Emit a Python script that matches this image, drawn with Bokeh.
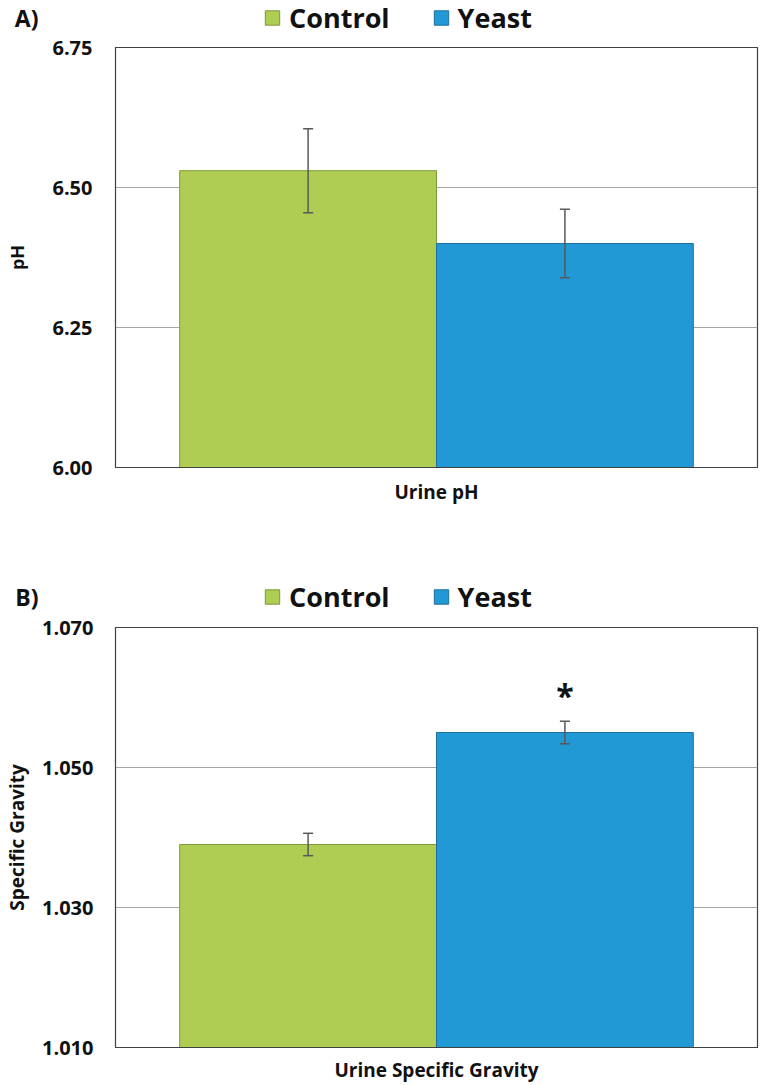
from bokeh.plotting import figure
from bokeh.models import (ColumnDataSource, FactorRange, Range1d, FixedTicker,
                          NumeralTickFormatter, Legend, LegendItem)
from bokeh.transform import dodge
from bokeh.layouts import column
from bokeh.embed import file_html
from bokeh.resources import INLINE
from bokeh.core.properties import value

# ---------------- data ----------------
groups = ["Control", "Yeast"]
colors = ["#AFCD53", "#2199D5"]
edge_colors = ["#7E983A", "#1E6F9F"]

ph_category = "Urine pH"
ph_values = [6.53, 6.40]
ph_errors = [0.075, 0.061]
ph_ticks = [6.00, 6.25, 6.50, 6.75]

sg_category = "Urine Specific Gravity"
sg_values = [1.039, 1.055]
sg_errors = [0.0016, 0.0016]
sg_ticks = [1.010, 1.030, 1.050, 1.070]
sg_significant = [False, True]

FONT = "Open Sans"
INK = "#111111"
offsets = [-0.2, 0.2]
W = 768


def make_header(tag, height, border_top):
    """Strip above a panel: panel tag (as axis label) + legend."""
    h = figure(width=W, height=height, output_backend="svg",
               toolbar_location=None, x_axis_location=None,
               y_axis_location="left", min_border_left=115,
               min_border_right=11, min_border_top=border_top,
               min_border_bottom=0,
               x_range=Range1d(0, 1), y_range=FactorRange(factors=[tag]))
    h.outline_line_color = None
    h.grid.grid_line_color = None
    ax = h.yaxis[0]
    ax.axis_line_color = None
    ax.major_tick_line_color = None
    ax.minor_tick_line_color = None
    ax.major_tick_out = 0
    ax.major_label_standoff = 77
    ax.major_label_text_font = FONT
    ax.major_label_text_font_style = "bold"
    ax.major_label_text_font_size = "23px"
    ax.major_label_text_color = INK
    items = []
    for i, g in enumerate(groups):
        # legend swatch source: placed outside the visible x range
        src = ColumnDataSource(dict(x=[-1.0], y=[tag]))
        r = h.rect(x="x", y="y", width=0.01, height=0.5, source=src,
                   fill_color=colors[i], line_color=edge_colors[i])
        items.append(LegendItem(label=g, renderers=[r]))
    leg = Legend(items=items, orientation="horizontal", location="left",
                 padding=0, margin=148, spacing=42, label_standoff=8,
                 glyph_width=18, glyph_height=18, label_text_font=FONT,
                 label_text_font_style="bold", label_text_font_size="27px",
                 label_text_color=INK, border_line_color=None,
                 background_fill_alpha=0)
    h.add_layout(leg, "center")
    return h


def make_panel(category, vals, errs, ticks, fmt, ylabel, signif,
               height, border_top, border_bottom, tick_standoff,
               ylabel_standoff, ylabel_size, xlabel_size, xlabel_standoff):
    p = figure(x_range=FactorRange(factors=[category]),
               y_range=Range1d(ticks[0], ticks[-1]),
               width=W, height=height, output_backend="svg",
               toolbar_location=None, min_border_left=115,
               min_border_right=11, min_border_top=border_top,
               min_border_bottom=border_bottom)
    p.outline_line_color = "#404040"
    p.outline_line_width = 1.2
    p.xgrid.grid_line_color = None
    p.ygrid.grid_line_color = "#A6A6A6"
    p.ygrid.grid_line_width = 1
    p.yaxis.ticker = FixedTicker(ticks=ticks)
    p.yaxis.formatter = NumeralTickFormatter(format=fmt)
    for ax in (p.xaxis[0], p.yaxis[0]):
        ax.axis_line_color = "#404040"
        ax.major_tick_line_color = None
        ax.minor_tick_line_color = None
        ax.major_tick_out = 0
        ax.major_tick_in = 0
        ax.major_label_text_font = FONT
        ax.major_label_text_font_style = "bold"
        ax.major_label_text_color = INK
    p.yaxis.major_label_text_font_size = "20px"
    p.yaxis.major_label_standoff = tick_standoff
    p.yaxis.axis_label = ylabel
    p.yaxis.axis_label_text_font = FONT
    p.yaxis.axis_label_text_font_style = "bold"
    p.yaxis.axis_label_text_font_size = ylabel_size
    p.yaxis.axis_label_text_color = INK
    p.yaxis.axis_label_standoff = ylabel_standoff
    p.xaxis.major_label_text_font_size = xlabel_size
    p.xaxis.major_label_standoff = xlabel_standoff
    p.xaxis.major_label_orientation = "horizontal"

    for i, g in enumerate(groups):
        src = ColumnDataSource(dict(cat=[category], val=[vals[i]],
                                    upper=[vals[i] + errs[i]],
                                    lower=[vals[i] - errs[i]],
                                    star=["*" if signif[i] else ""]))
        xd = dodge("cat", offsets[i], range=p.x_range)
        p.vbar(x=xd, top="val", bottom=ticks[0], width=0.4, source=src,
               fill_color=colors[i], line_color=edge_colors[i], line_width=1)
        p.segment(x0=xd, x1=xd, y0="lower", y1="upper", source=src,
                  line_color="#595959", line_width=1.5)
        p.scatter(x=xd, y="upper", marker="dash", size=10, source=src,
                  line_color="#595959", line_width=1.5)
        p.scatter(x=xd, y="lower", marker="dash", size=10, source=src,
                  line_color="#595959", line_width=1.5)
        if signif[i]:
            p.text(x=xd, y="upper", text="star", source=src,
                   text_font=value(FONT), text_font_style="bold",
                   text_font_size="32px", text_align="center",
                   text_baseline="bottom", y_offset=-4, text_color=INK)
    return p


ha = make_header("A)", height=34, border_top=0)
pa = make_panel(ph_category, ph_values, ph_errors, ph_ticks, "0.00",
                "pH", [False, False], height=513, border_top=13,
                border_bottom=80, tick_standoff=23, ylabel_standoff=20,
                ylabel_size="18px", xlabel_size="19px", xlabel_standoff=11)
hb = make_header("B)", height=67, border_top=31)
pb = make_panel(sg_category, sg_values, sg_errors, sg_ticks, "0.000",
                "Specific Gravity", sg_significant, height=471,
                border_top=13, border_bottom=38, tick_standoff=22,
                ylabel_standoff=9, ylabel_size="19px", xlabel_size="19px",
                xlabel_standoff=9)

layout = column(ha, pa, hb, pb)
open("out.html", "w").write(file_html(layout, INLINE))
